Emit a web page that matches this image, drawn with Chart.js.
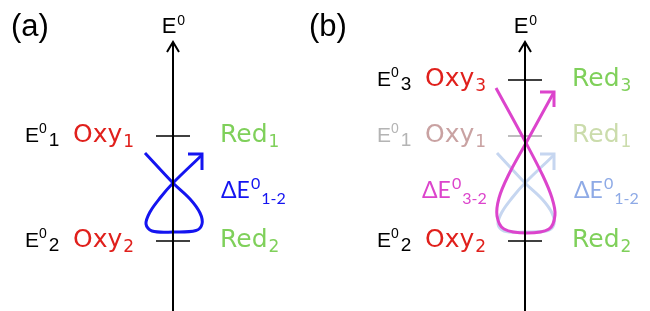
<!DOCTYPE html>
<html>
<head>
<meta charset="utf-8">
<script src="https://cdn.jsdelivr.net/npm/chart.js@4/dist/chart.umd.min.js"></script>
<style>
  html, body { margin: 0; padding: 0; background: #fff; }
  #wrap { width: 650px; height: 311px; }
</style>
</head>
<body>
<div id="wrap"><canvas id="diagram" width="650" height="311"></canvas></div>
<script>
// --- data (x: 0..650, y: potential drawn downwards 0..311) ---
const axisPos = [173, 525];              // E0 axis of panel (a) and (b)
const levelsA = [136, 241];              // E0_1, E0_2
const levelsB = [80, 136, 241];          // E0_3, E0_1 (faded), E0_2
const axisTop = 42;
const axisBottom = 311;

// scan loop 1-2 in panel (a)
const loop12X = [145, 173, 190, 200, 202, 196, 173, 152, 146, 150, 160, 173, 202];
const loop12Y = [153, 183, 199, 213, 224, 230.5, 232, 231, 224, 212, 198, 183, 155];
const head12X = [188, 202, 202];
const head12Y = [154, 154, 170];

// scan loop 3-2 in panel (b)
const loop32X = [496, 526, 543, 552, 555, 549, 527, 504, 497, 499, 508, 526, 554];
const loop32Y = [88, 143, 176, 198, 215, 229, 233, 229, 216, 198, 176, 143, 92];
const head32X = [540, 554, 554];
const head32Y = [92, 92, 107];

// faded copy of loop 1-2 in panel (b)
const fade12X = [497, 525, 542, 552, 554, 548, 525, 504, 498, 502, 512, 525, 554];
const fade12Y = [153, 183, 199, 213, 224, 230.5, 232, 231, 224, 212, 198, 183, 155];
const fadeHeadX = [540, 554, 554];
const fadeHeadY = [154, 154, 170];

const colors = {
    black: '#000000',
    red: '#e0201c',
    green: '#7fd05a',
    blue: '#1414f0',
    magenta: '#dc44cc',
    grey: '#b4b4b4',
    fadeRed: '#c9a2a2',
    fadeGreen: '#cbdcac',
    fadeBlueText: '#8eaae6',
    fadeBlueLine: '#c6d6f0',
    fadeTick: '#a8a8a8'
};

const pts = (xs, ys) => xs.map((x, i) => ({ x: x, y: ys[i] }));

function lineSet(data, color, width, order, tension) {
    return {
        data: data,
        showLine: true,
        borderColor: color,
        borderWidth: width,
        pointRadius: 0,
        tension: tension || 0,
        borderCapStyle: 'butt',
        borderJoinStyle: 'miter',
        order: order
    };
}

const datasets = [];

// axes with arrow heads
axisPos.forEach(x => {
    datasets.push(lineSet(pts([x, x], [axisBottom, axisTop + 1]), colors.black, 2, 0));
    datasets.push(lineSet(pts([x - 6, x, x + 6], [axisTop + 10, axisTop, axisTop + 10]), colors.black, 2, 0));
});

// level ticks
levelsA.forEach(y => {
    datasets.push(lineSet(pts([axisPos[0] - 17, axisPos[0] + 17], [y, y]), colors.black, 1.5, 1));
});
levelsB.forEach((y, i) => {
    const c = i === 1 ? colors.fadeTick : colors.black;
    datasets.push(lineSet(pts([axisPos[1] - 17, axisPos[1] + 17], [y, y]), c, 1.5, i === 1 ? 5 : 1));
});

// scan curves
datasets.push(lineSet(pts(loop12X, loop12Y), colors.blue, 3, 2, 0.35));
datasets.push(lineSet(pts(head12X, head12Y), colors.blue, 3, 2));
datasets.push(lineSet(pts(loop32X, loop32Y), colors.magenta, 3, 2, 0.35));
datasets.push(lineSet(pts(head32X, head32Y), colors.magenta, 3, 2));
datasets.push(lineSet(pts(fade12X, fade12Y), colors.fadeBlueLine, 3, 4, 0.35));
datasets.push(lineSet(pts(fadeHeadX, fadeHeadY), colors.fadeBlueLine, 3, 4));

// --- text labels ---
const GOTHIC = '"DejaVu Sans"';
const HELV = '"Liberation Sans"';
const CALI = 'Lato';

function eLabel(sub) {
    return [
        { t: 'E', size: 21, dy: 0, font: HELV },
        { t: '0', size: 14, dy: -9, font: HELV, gap: 2 },
        { t: sub, size: 19, dy: 4, font: HELV }
    ];
}
function species(name, sub) {
    return [
        { t: name, size: 25, dy: 0, font: GOTHIC, gap: 1 },
        { t: sub, size: 17, dy: 5, font: GOTHIC }
    ];
}
function deltaLabel(sub) {
    return [
        { t: '\u0394E', size: 23, dy: 0, font: CALI, gap: 1 },
        { t: '0', size: 16, dy: -9, font: CALI, gap: 1 },
        { t: sub, size: 16, dy: 6, font: CALI }
    ];
}

// x offsets from panel axis, y = level
const labels = [];
function rowLabels(axis, level, idx, cE, cO, cR) {
    labels.push({ x: axis - 148, y: level, parts: eLabel(idx), color: cE });
    labels.push({ x: axis - 100, y: level, parts: species('Oxy', idx), color: cO });
    labels.push({ x: axis + 47, y: level, parts: species('Red', idx), color: cR });
}
rowLabels(axisPos[0], levelsA[0], '1', colors.black, colors.red, colors.green);
rowLabels(axisPos[0], levelsA[1], '2', colors.black, colors.red, colors.green);
rowLabels(axisPos[1], levelsB[0], '3', colors.black, colors.red, colors.green);
rowLabels(axisPos[1], levelsB[1], '1', colors.grey, colors.fadeRed, colors.fadeGreen);
rowLabels(axisPos[1], levelsB[2], '2', colors.black, colors.red, colors.green);

const deltaY = 192;
labels.push({ x: axisPos[0] + 48, y: deltaY, parts: deltaLabel('1-2'), color: colors.blue });
labels.push({ x: axisPos[1] - 103, y: deltaY, parts: deltaLabel('3-2'), color: colors.magenta });
labels.push({ x: axisPos[1] + 49, y: deltaY, parts: deltaLabel('1-2'), color: colors.fadeBlueText });

const textPlugin = {
    id: 'diagramText',
    afterDatasetsDraw(chart) {
        const ctx = chart.ctx;
        const sx = chart.scales.x;
        const sy = chart.scales.y;
        ctx.save();
        ctx.textBaseline = 'alphabetic';
        ctx.textAlign = 'left';

        labels.forEach(lb => {
            let cx = sx.getPixelForValue(lb.x);
            const by = sy.getPixelForValue(lb.y) + 6;
            lb.parts.forEach(p => {
                ctx.font = p.size + 'px ' + p.font;
                ctx.fillStyle = lb.color;
                ctx.fillText(p.t, cx, by + p.dy);
                cx += ctx.measureText(p.t).width + (p.gap || 0);
            });
        });

        // axis titles
        axisPos.forEach(x => {
            const px = sx.getPixelForValue(x);
            ctx.fillStyle = colors.black;
            ctx.font = '22px ' + HELV;
            const w = ctx.measureText('E').width;
            ctx.fillText('E', px - w / 2 - 4, 33);
            ctx.font = '14px ' + HELV;
            ctx.fillText('0', px + w / 2 - 3, 25);
        });

        // panel letters
        ctx.font = '31px ' + HELV;
        ctx.fillText('(a)', 11, 36);
        ctx.fillText('(b)', 309, 36);
        ctx.restore();
    }
};

new Chart(document.getElementById('diagram'), {
    type: 'scatter',
    data: { datasets: datasets },
    options: {
        responsive: false,
        animation: false,
        layout: { padding: 0 },
        scales: {
            x: { type: 'linear', min: 0, max: 650, display: false },
            y: { type: 'linear', min: 0, max: 311, reverse: true, display: false }
        },
        plugins: {
            legend: { display: false },
            tooltip: { enabled: false }
        },
        elements: { line: { capBezierPoints: false } }
    },
    plugins: [textPlugin]
});
</script>
</body>
</html>
